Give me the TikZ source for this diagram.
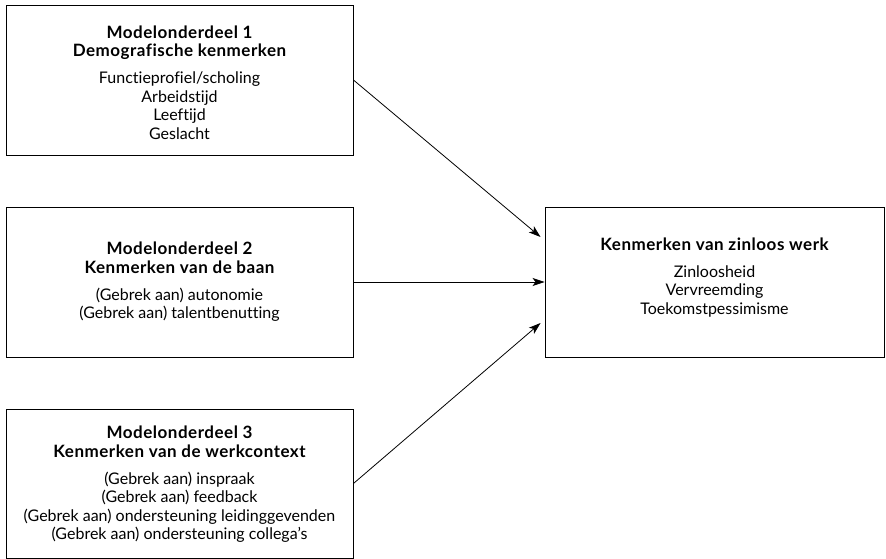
\documentclass[tikz,border=0pt]{standalone}
\usepackage{fontspec}
\setmainfont{Lato}[Ligatures=NoCommon, BoldFeatures={LetterSpace=3}]
\usetikzlibrary{arrows.meta}
\newcommand{\ttl}[1]{{\fontsize{17}{18.6}\selectfont\bfseries #1}}
\tikzset{
  boxnode/.style={draw=black, line width=0.9pt, rectangle, inner sep=0pt},
  txtnode/.style={align=center, inner sep=0pt, font=\fontsize{16}{18.6}\selectfont},
  linkarrow/.style={line width=0.8pt, -{Stealth[length=12pt,width=8pt,inset=3pt]}}
}
\begin{document}
\begin{tikzpicture}[x=1pt,y=-1pt]
\useasboundingbox (0,0) rectangle (886,559);
\node[boxnode, minimum width=347pt, minimum height=150pt] (b1) at (179.5,80) {};
\node[boxnode, minimum width=347pt, minimum height=150pt] (b2) at (179.5,282) {};
\node[boxnode, minimum width=347pt, minimum height=149pt] (b3) at (179.5,483.5) {};
\node[boxnode, minimum width=339pt, minimum height=150pt] (r) at (714.5,282) {};
\node[txtnode] (t1) at ([yshift=-2.5pt]b1.center)
  {\ttl{Modelonderdeel 1}\\\ttl{Demografische kenmerken}\\[8pt]Functieprofiel/scholing\\Arbeidstijd\\Leeftijd\\Geslacht};
\node[txtnode] (t2) at (b2.center)
  {\ttl{Modelonderdeel 2}\\\ttl{Kenmerken van de baan}\\[8pt](Gebrek aan) autonomie\\(Gebrek aan) talentbenutting};
\node[txtnode] (t3) at ([yshift=-1pt]b3.center)
  {\ttl{Modelonderdeel 3}\\\ttl{Kenmerken van de werkcontext}\\[8pt](Gebrek aan) inspraak\\(Gebrek aan) feedback\\(Gebrek aan) ondersteuning leidinggevenden\\(Gebrek aan) ondersteuning collega's};
\node[txtnode] (rt) at ([yshift=4.5pt]r.center)
  {\ttl{Kenmerken van zinloos werk}\\[8pt]Zinloosheid\\Vervreemding\\Toekomstpessimisme};
\draw[linkarrow] (b1.east) -- ([xshift=-4pt,yshift=45pt]r.west);
\draw[linkarrow] (b2.east) -- (r.west);
\draw[linkarrow] (b3.east) -- ([xshift=-4pt,yshift=-41pt]r.west);
\end{tikzpicture}
\end{document}
